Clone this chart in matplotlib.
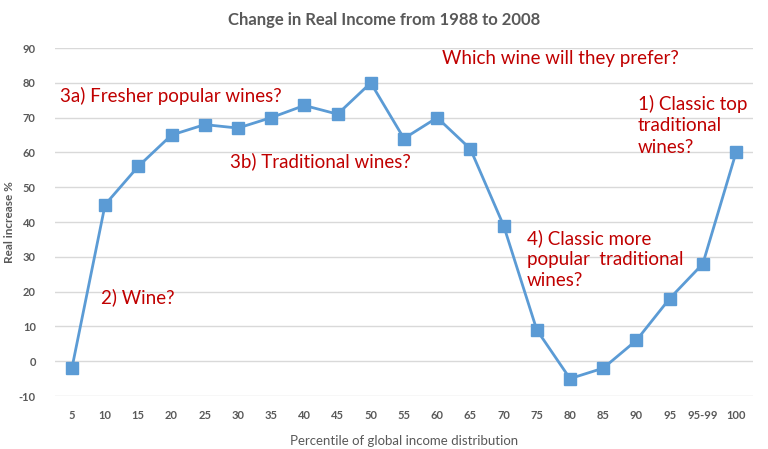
import matplotlib
matplotlib.use('Agg')
from matplotlib import pyplot as plt

# data
percentiles = ['5', '10', '15', '20', '25', '30', '35', '40', '45', '50', '55',
               '60', '65', '70', '75', '80', '85', '90', '95', '95-99', '100']
real_increase = [-2, 45, 56, 65, 68, 67, 70, 73.5, 71, 80, 64,
                 70, 61, 39, 9, -5, -2, 6, 18, 28, 60]
y_ticks = [-10, 0, 10, 20, 30, 40, 50, 60, 70, 80, 90]

title = 'Change in Real Income from 1988 to 2008'
x_label = 'Percentile of global income distribution'
y_label = 'Real increase %'

notes = [
    ('Which wine will they prefer?', 11.15, 87.1),
    ('3a) Fresher popular wines?', -0.36, 76.1),
    ('1) Classic top\ntraditional\nwines?', 17.05, 67.8),
    ('3b) Traditional wines?', 4.77, 57.5),
    ('4) Classic more\npopular  traditional\nwines?', 13.7, 29.3),
    ('2) Wine?', 0.87, 18.4),
]

line_color = '#5b9bd5'
note_color = '#c00000'
gray = '#595959'

plt.rcParams['font.family'] = ['Lato', 'DejaVu Sans']

fig = plt.figure(figsize=(7.68, 4.49), dpi=100)
ax = fig.add_axes([0.072, 0.118, 0.908, 0.775])

xs = list(range(len(percentiles)))
ax.plot(xs, real_increase, color=line_color, linewidth=2,
        marker='s', markersize=8, zorder=3)

ax.set_xlim(-0.5, len(percentiles) - 0.5)
ax.set_ylim(-10, 90)
ax.set_yticks(y_ticks)
ax.set_yticklabels([str(t) for t in y_ticks])
ax.set_xticks(xs)
ax.set_xticklabels(percentiles)
ax.grid(axis='y', color='#d9d9d9', linewidth=1)
ax.set_axisbelow(True)
for s in ax.spines.values():
    s.set_visible(False)
ax.tick_params(length=0, labelsize=8, labelcolor=gray, pad=10)
ax.tick_params(axis='y', pad=14)
for lbl in ax.get_xticklabels() + ax.get_yticklabels():
    lbl.set_fontweight('bold')

ax.set_xlabel(x_label, fontsize=9.5, color=gray, labelpad=10)
ax.set_ylabel(y_label, fontsize=8.5, color=gray, fontweight='bold', labelpad=3)
fig.text(0.5, 0.955, title, ha='center', va='center', fontsize=12,
         color=gray, fontweight='bold')

for txt, x, y in notes:
    ax.text(x, y, txt, color=note_color, fontsize=13.5, ha='left', va='center',
            linespacing=1.3)

fig.savefig('out.png', dpi=100)
